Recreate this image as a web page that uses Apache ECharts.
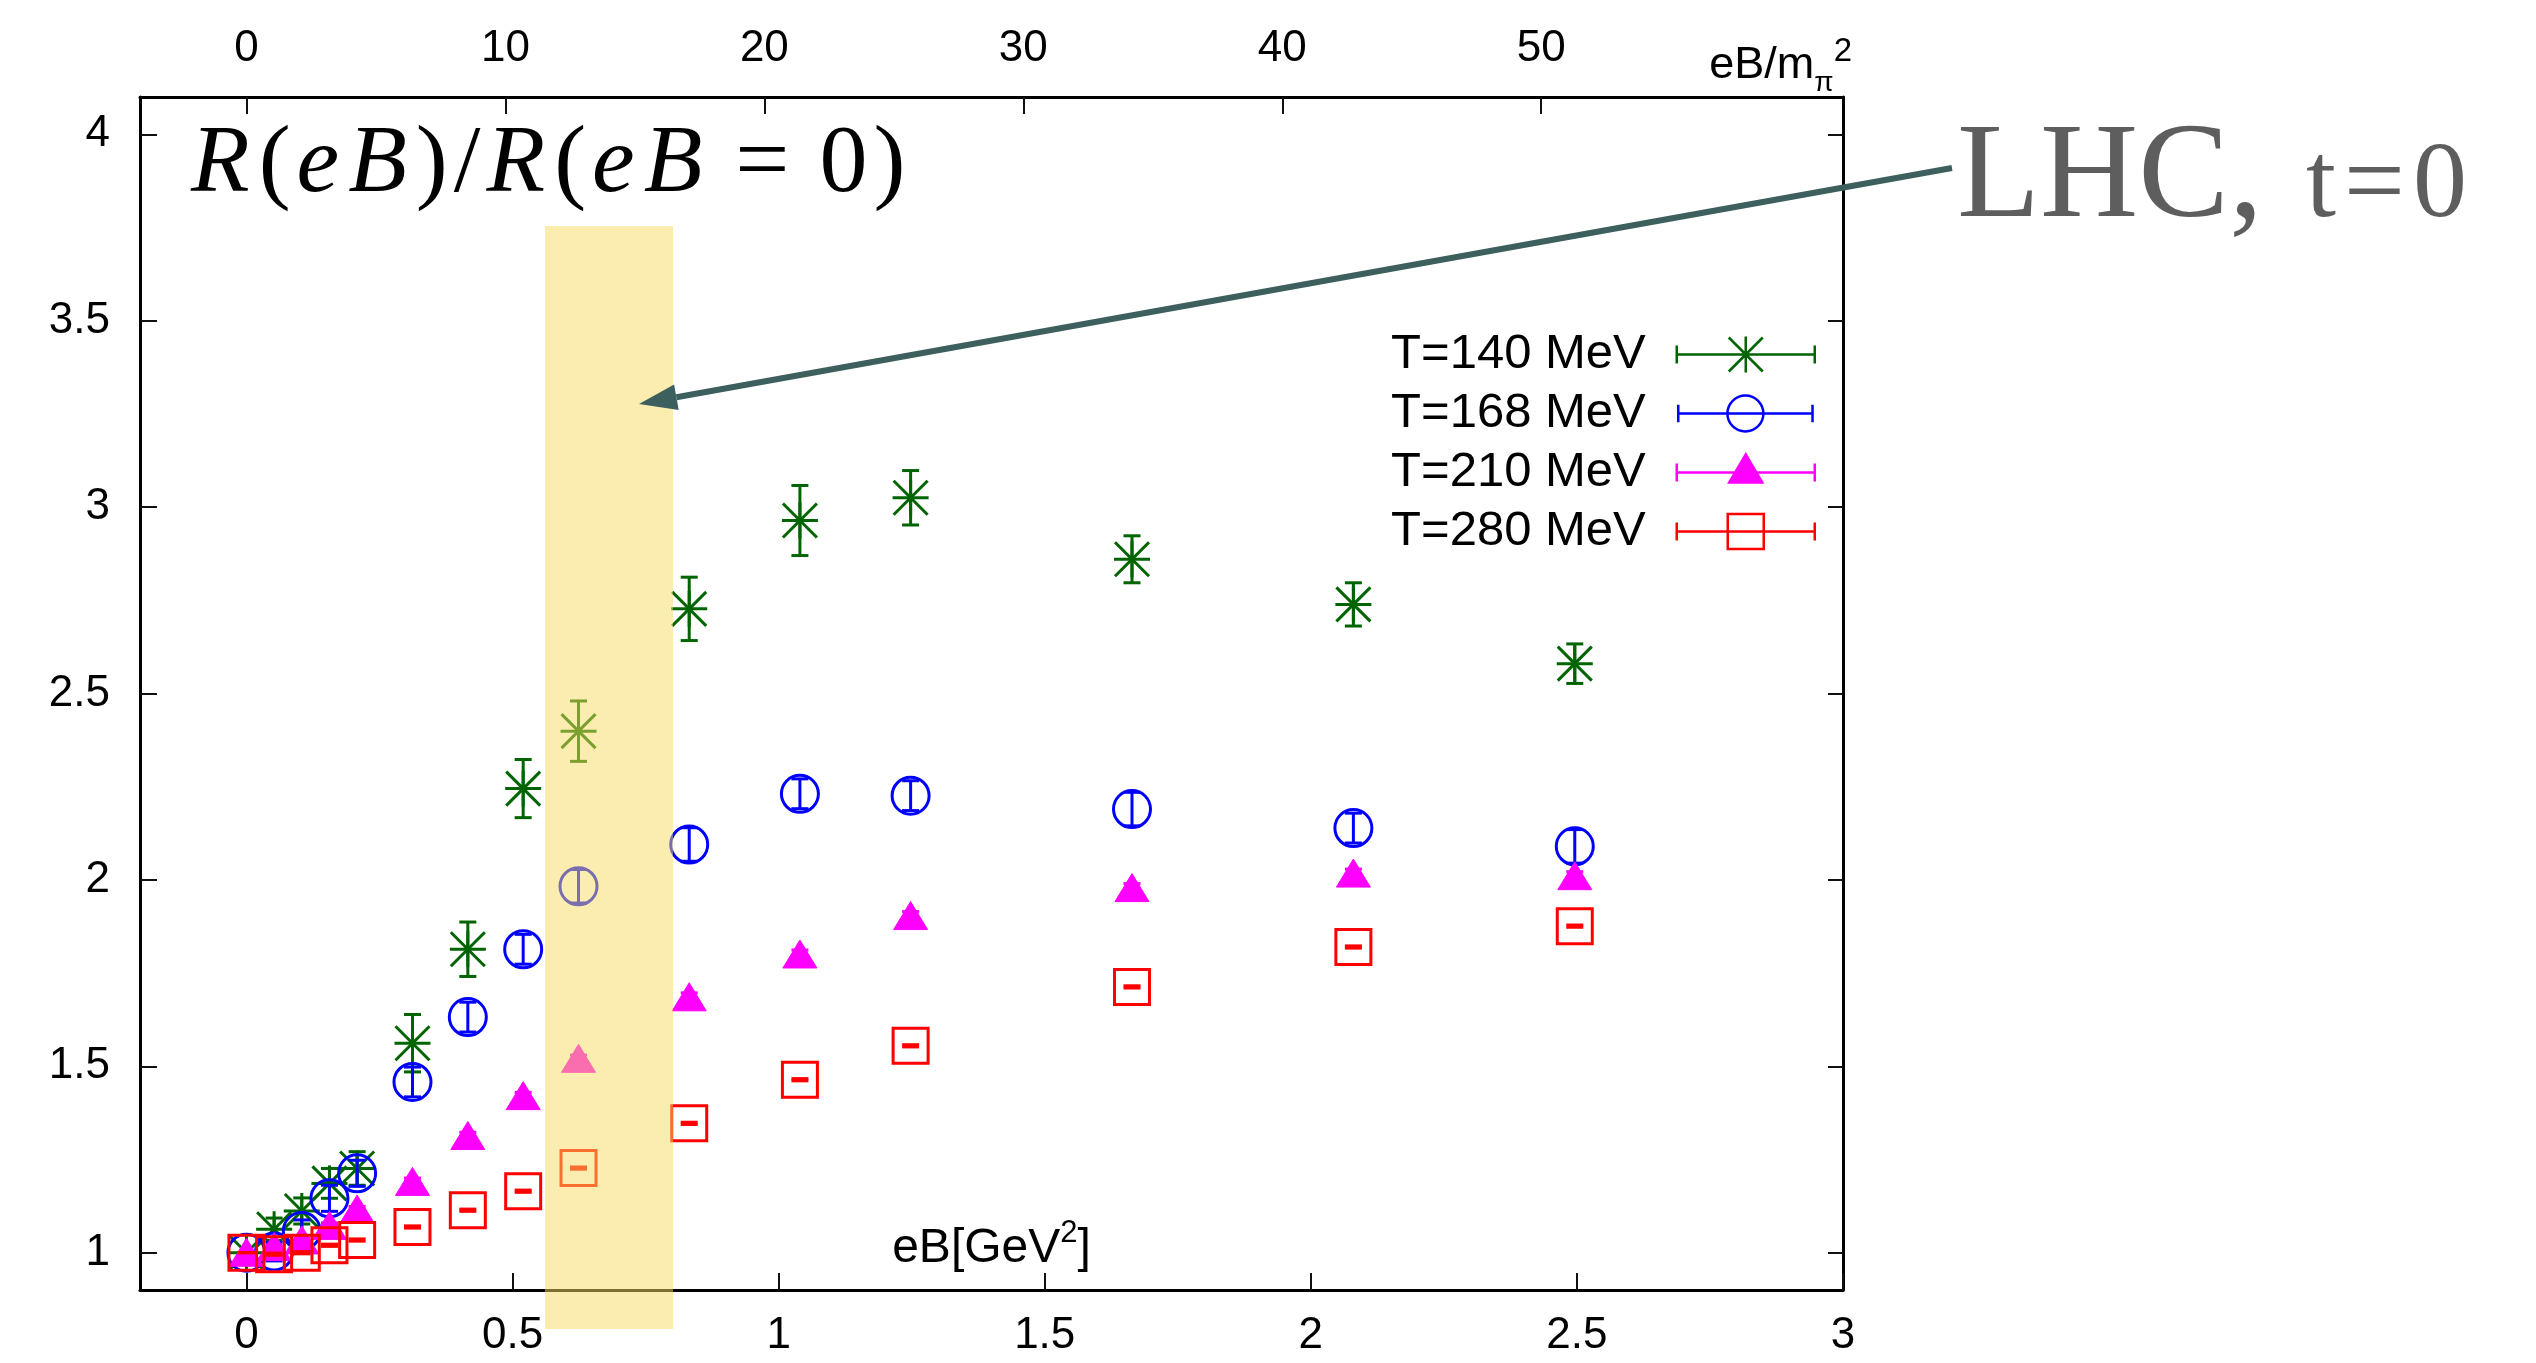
<!DOCTYPE html>
<html>
<head>
<meta charset="utf-8">
<script src="https://cdn.jsdelivr.net/npm/echarts@6/dist/echarts.min.js"></script>
<style>
html,body{margin:0;padding:0;background:#ffffff;}
#chart{width:2536px;height:1363px;}
</style>
</head>
<body>
<div id="chart"></div>
<script>
// ---- data ----
const eB = [0, 0.052, 0.104, 0.156, 0.208, 0.312, 0.416, 0.52, 0.624, 0.832, 1.04, 1.248, 1.664, 2.08, 2.496];

const r140 = [1.0, 1.063, 1.112, 1.186, 1.226, 1.562, 1.814, 2.245, 2.399, 2.727, 2.964, 3.025, 2.86, 2.739, 2.58];
const e140 = [0.0, 0.03, 0.035, 0.04, 0.045, 0.077, 0.073, 0.078, 0.081, 0.085, 0.094, 0.073, 0.063, 0.058, 0.053];

const r168 = [1.0, 1.003, 1.058, 1.146, 1.213, 1.458, 1.632, 1.814, 1.983, 2.095, 2.231, 2.226, 2.19, 2.139, 2.09];
const e168 = [0.0, 0.025, 0.03, 0.035, 0.035, 0.04, 0.04, 0.04, 0.045, 0.045, 0.04, 0.04, 0.045, 0.04, 0.045];

const r210 = [1.0, 1.015, 1.033, 1.072, 1.116, 1.19, 1.313, 1.42, 1.52, 1.685, 1.80, 1.903, 1.978, 2.017, 2.01];
const e210 = [0.0, 0.005, 0.005, 0.008, 0.008, 0.01, 0.01, 0.01, 0.01, 0.012, 0.012, 0.012, 0.012, 0.012, 0.012];

const r280 = [1.0, 0.996, 1.0, 1.02, 1.034, 1.069, 1.114, 1.165, 1.227, 1.347, 1.464, 1.555, 1.713, 1.82, 1.876];
const e280 = [0.0, 0.003, 0.003, 0.003, 0.003, 0.003, 0.003, 0.003, 0.003, 0.003, 0.003, 0.003, 0.003, 0.003, 0.003];

const seriesNames = ['T=140 MeV', 'T=168 MeV', 'T=210 MeV', 'T=280 MeV'];
const xTicks = [0, 0.5, 1, 1.5, 2, 2.5, 3];
const x2Ticks = [0, 10, 20, 30, 40, 50];
const yTicks = [1, 1.5, 2, 2.5, 3, 3.5, 4];

// ---- axis scales ----
const X_MIN = -0.2, X_MAX = 3.0, Y_MIN = 0.9, Y_MAX = 4.1;
const MPI2 = 0.04866; // GeV^2 per unit of eB/m_pi^2 (top axis)

const GREEN = '#006400', BLUE = '#0000ff', MAGENTA = '#ff00ff', RED = '#ff0000';
const SANS = "'Liberation Sans', Arial, Helvetica, sans-serif";
const SERIF = "'Liberation Serif', 'DejaVu Serif', serif";

function rows(ys, es) { return eB.map((x, i) => [x, ys[i], es[i]]); }

function markerShapes(kind, color, cx, cy) {
  const st = { stroke: color, lineWidth: 3, fill: 'none' };
  if (kind === 'star') {
    return [
      { type: 'line', shape: { x1: cx - 18, y1: cy, x2: cx + 18, y2: cy }, style: st },
      { type: 'line', shape: { x1: cx, y1: cy - 18, x2: cx, y2: cy + 18 }, style: st },
      { type: 'line', shape: { x1: cx - 17, y1: cy - 17, x2: cx + 17, y2: cy + 17 }, style: st },
      { type: 'line', shape: { x1: cx - 17, y1: cy + 17, x2: cx + 17, y2: cy - 17 }, style: st }
    ];
  }
  if (kind === 'circle') {
    return [{ type: 'circle', shape: { cx: cx, cy: cy, r: 18.5 }, style: st }];
  }
  if (kind === 'triangle') {
    return [{ type: 'polygon', shape: { points: [[cx, cy - 14.5], [cx + 17, cy + 13.5], [cx - 17, cy + 13.5]] },
              style: { fill: color, stroke: color, lineWidth: 1 } }];
  }
  return [{ type: 'rect', shape: { x: cx - 17.5, y: cy - 17.5, width: 35, height: 35 }, style: st }];
}

function makeRender(kind, color) {
  return function (params, api) {
    const x = api.value(0), y = api.value(1), e = api.value(2);
    const p = api.coord([x, y]);
    const pt = api.coord([x, y + e]);
    const pb = api.coord([x, y - e]);
    const st = { stroke: color, lineWidth: 3, fill: 'none' };
    const children = [
      { type: 'line', shape: { x1: p[0], y1: pt[1], x2: p[0], y2: pb[1] }, style: st },
      { type: 'line', shape: { x1: p[0] - 8.5, y1: pt[1], x2: p[0] + 8.5, y2: pt[1] }, style: st },
      { type: 'line', shape: { x1: p[0] - 8.5, y1: pb[1], x2: p[0] + 8.5, y2: pb[1] }, style: st }
    ].concat(markerShapes(kind, color, p[0], p[1]));
    return { type: 'group', children: children };
  };
}

function makeSeries(name, kind, color, ys, es) {
  return {
    name: name,
    type: 'custom',
    xAxisIndex: 0,
    yAxisIndex: 0,
    coordinateSystem: 'cartesian2d',
    renderItem: makeRender(kind, color),
    encode: { x: 0, y: 1 },
    itemStyle: { color: color },
    data: rows(ys, es),
    z: 5
  };
}

// legend icons: error-bar sample + marker, 164 x 36 box (26px left gap)
const LBOX = 'M0,0 M164,36 ';
const LBAR = 'M26,18 L164,18 M26,9 L26,27 M164,9 L164,27 ';
const legendIcons = [
  'path://' + LBOX + LBAR + 'M77,18 L113,18 M95,0 L95,36 M78,1 L112,35 M78,35 L112,1',
  'path://' + LBOX + LBAR + 'M113.5,18 A18.5,18.5 0 1 1 76.5,18 A18.5,18.5 0 1 1 113.5,18 Z',
  'path://' + LBOX + LBAR + 'M95,0 L111.5,28 L78.5,28 Z',
  'path://' + LBOX + LBAR + 'M77,0.5 L113,0.5 L113,35.5 L77,35.5 Z'
];
const legendColors = [GREEN, BLUE, MAGENTA, RED];
const legendFills = ['rgba(0,0,0,0)', 'rgba(0,0,0,0)', MAGENTA, 'rgba(0,0,0,0)'];

// arrow geometry (annotation)
const A0 = [1952, 168], A1 = [639, 404];
const adx = A1[0] - A0[0], ady = A1[1] - A0[1];
const alen = Math.sqrt(adx * adx + ady * ady);
const ux = adx / alen, uy = ady / alen;
const HL = 38, HW = 13;
const bx = A1[0] - ux * HL, by = A1[1] - uy * HL;

const chart = echarts.init(document.getElementById('chart'), null, { renderer: 'canvas' });

const axisLineStyle = { color: '#000', width: 3 };
const tickStyle = { color: '#111', width: 2 };

const option = {
  animation: false,
  backgroundColor: '#ffffff',
  grid: { left: 140, right: 693, top: 97, bottom: 73, containLabel: false },
  legend: {
    orient: 'vertical',
    align: 'right',
    right: 715,
    top: 325,
    itemWidth: 164,
    itemHeight: 36,
    itemGap: 10,
    selectedMode: false,
    textStyle: { fontSize: 49, fontFamily: SANS, color: '#000' },
    data: seriesNames.map((n, i) => ({
      name: n,
      icon: legendIcons[i],
      itemStyle: { color: legendFills[i], borderColor: legendColors[i], borderWidth: 2.5 }
    }))
  },
  xAxis: [
    {
      type: 'value', position: 'bottom', min: X_MIN, max: X_MAX,
      axisLine: { show: true, onZero: false, lineStyle: axisLineStyle },
      axisTick: { show: true, inside: true, length: 17, lineStyle: tickStyle, customValues: xTicks },
      axisLabel: { show: true, customValues: xTicks, fontSize: 44, fontFamily: SANS, color: '#000', margin: 24 },
      splitLine: { show: false },
      name: 'eB[GeV{sup|2}]',
      nameLocation: 'middle',
      nameGap: -41,
      nameTextStyle: {
        fontSize: 48, fontFamily: SANS, color: '#000', verticalAlign: 'middle', lineHeight: 62,
        rich: { sup: { fontSize: 31, fontFamily: SANS, color: '#000', lineHeight: 31, verticalAlign: 'top' } }
      }
    },
    {
      type: 'value', position: 'top', min: X_MIN / MPI2, max: X_MAX / MPI2,
      axisLine: { show: true, onZero: false, lineStyle: axisLineStyle },
      axisTick: { show: true, inside: true, length: 17, lineStyle: tickStyle, customValues: x2Ticks },
      axisLabel: { show: true, customValues: x2Ticks, fontSize: 44, fontFamily: SANS, color: '#000', margin: 26 },
      splitLine: { show: false },
      name: 'eB/m{sub|π}{sup|2}',
      nameLocation: 'end',
      nameGap: 9,
      nameTextStyle: {
        fontSize: 45, fontFamily: SANS, color: '#000', align: 'right', verticalAlign: 'bottom', lineHeight: 62,
        rich: {
          sub: { fontSize: 28, fontFamily: SANS, color: '#000', lineHeight: 28, verticalAlign: 'bottom' },
          sup: { fontSize: 33, fontFamily: SANS, color: '#000', lineHeight: 33, verticalAlign: 'top' }
        }
      }
    }
  ],
  yAxis: [
    {
      type: 'value', position: 'left', min: Y_MIN, max: Y_MAX,
      axisLine: { show: true, onZero: false, lineStyle: axisLineStyle },
      axisTick: { show: true, inside: true, length: 17, lineStyle: tickStyle, customValues: yTicks },
      axisLabel: { show: true, customValues: yTicks, fontSize: 44, fontFamily: SANS, color: '#000', margin: 30 },
      splitLine: { show: false }
    },
    {
      type: 'value', position: 'right', min: Y_MIN, max: Y_MAX,
      axisLine: { show: true, onZero: false, lineStyle: axisLineStyle },
      axisTick: { show: true, inside: true, length: 15, lineStyle: tickStyle, customValues: yTicks },
      axisLabel: { show: false },
      splitLine: { show: false }
    }
  ],
  series: [
    makeSeries(seriesNames[0], 'star', GREEN, r140, e140),
    makeSeries(seriesNames[1], 'circle', BLUE, r168, e168),
    makeSeries(seriesNames[2], 'triangle', MAGENTA, r210, e210),
    makeSeries(seriesNames[3], 'square', RED, r280, e280)
  ],
  graphic: [
    {
      type: 'text', x: 191, y: 166, z: 50,
      style: {
        text: '{i|R}{n|(}{i|e}{i|B}{n|)}{n|/}{i|R}{n|(}{i|e}{i|B}{m|=}{n|0}{n|)}',
        align: 'left', verticalAlign: 'middle',
        rich: {
          i: { fontFamily: SERIF, fontStyle: 'italic', fontSize: 96, fill: '#000', padding: [0, 9, 0, 0] },
          n: { fontFamily: SERIF, fontSize: 96, fill: '#000', padding: [0, 6, 0, 0] },
          m: { fontFamily: SERIF, fontSize: 96, fill: '#000', padding: [0, 30, 0, 24] }
        }
      }
    },
    {
      type: 'rect', z: 100,
      shape: { x: 545, y: 226, width: 128, height: 1103 },
      style: { fill: 'rgba(245,219,95,0.5)' }
    },
    {
      type: 'line', z: 110,
      shape: { x1: A0[0], y1: A0[1], x2: bx, y2: by },
      style: { stroke: '#3d605e', lineWidth: 6 }
    },
    {
      type: 'polygon', z: 110,
      shape: { points: [[A1[0], A1[1]], [bx - uy * HW, by + ux * HW], [bx + uy * HW, by - ux * HW]] },
      style: { fill: '#3d605e' }
    },
    {
      type: 'text', x: 1957, y: 180, z: 110,
      style: { text: 'LHC,', fontFamily: SERIF, fontSize: 136, fill: '#5e5e5e', align: 'left', verticalAlign: 'middle' }
    },
    {
      type: 'text', x: 2306, y: 188, z: 110,
      style: {
        text: '{a|t}{b|=}{a|0}',
        align: 'left', verticalAlign: 'middle',
        rich: {
          a: { fontFamily: SERIF, fontSize: 108, fill: '#5e5e5e', padding: [0, 6, 0, 0] },
          b: { fontFamily: SERIF, fontSize: 108, fill: '#5e5e5e', padding: [0, 8, 0, 2] }
        }
      }
    }
  ]
};

chart.setOption(option);
</script>
</body>
</html>
